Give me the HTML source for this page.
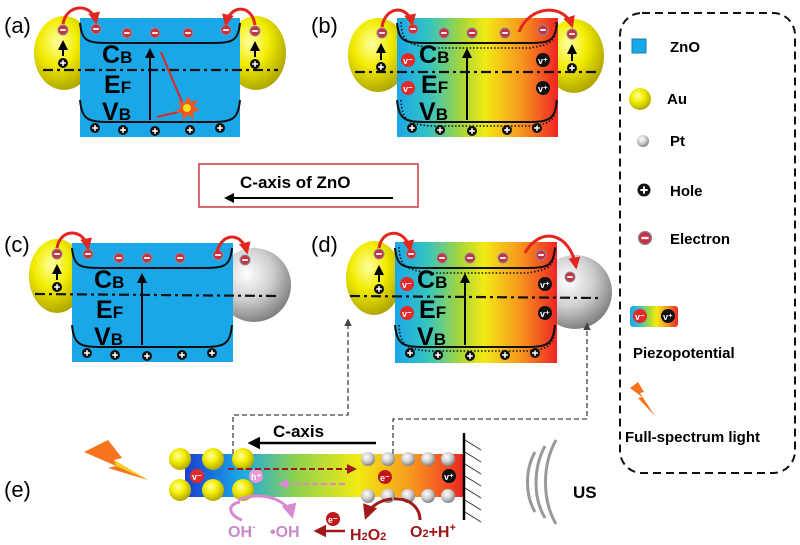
<!DOCTYPE html>
<html><head><meta charset="utf-8"><style>
html,body{margin:0;padding:0;background:#fff}
svg{display:block}
text{font-family:"Liberation Sans",Arial,sans-serif;font-weight:bold}
</style></head><body>
<svg width="800" height="545" viewBox="0 0 800 545" xmlns="http://www.w3.org/2000/svg">
<defs>
<linearGradient id="pz" x1="0" x2="1" y1="0" y2="0">
<stop offset="0" stop-color="#1aa7e8"/><stop offset="0.2" stop-color="#35c4c0"/><stop offset="0.4" stop-color="#a6d63a"/><stop offset="0.55" stop-color="#f2ea14"/><stop offset="0.78" stop-color="#f7931e"/><stop offset="1" stop-color="#ee2424"/></linearGradient>
<linearGradient id="rod" x1="0" x2="1" y1="0" y2="0">
<stop offset="0" stop-color="#1b3fd0"/><stop offset="0.2" stop-color="#1aa7e8"/><stop offset="0.4" stop-color="#8fd24c"/><stop offset="0.62" stop-color="#f2ea14"/><stop offset="0.82" stop-color="#f7931e"/><stop offset="1" stop-color="#ee2424"/></linearGradient>
<radialGradient id="au" cx="0.4" cy="0.35" r="0.7"><stop offset="0" stop-color="#ffffa0"/><stop offset="0.45" stop-color="#f2ec00"/><stop offset="1" stop-color="#a89f00"/></radialGradient>
<radialGradient id="pt" cx="0.4" cy="0.35" r="0.7"><stop offset="0" stop-color="#ffffff"/><stop offset="0.5" stop-color="#cfcfcf"/><stop offset="1" stop-color="#777"/></radialGradient>
<g id="el"><circle r="5" fill="#c8323e" stroke="#8a8aa0" stroke-width="1"/><rect x="-2.8" y="-0.9" width="5.6" height="1.8" fill="#fff"/></g>
<g id="ho"><circle r="5" fill="#111"/><rect x="-2.8" y="-0.8" width="5.6" height="1.6" fill="#fff"/><rect x="-0.8" y="-2.8" width="1.6" height="5.6" fill="#fff"/></g>
<marker id="ar" viewBox="0 0 10 10" refX="8" refY="5" markerWidth="5" markerHeight="5" orient="auto"><path d="M0,0L10,5L0,10z" fill="#000"/></marker>
<marker id="ra" viewBox="0 0 10 10" refX="8" refY="5" markerWidth="4" markerHeight="4" orient="auto"><path d="M0,0L10,5L0,10z" fill="#e3261f"/></marker>
<marker id="da" viewBox="0 0 10 10" refX="8" refY="5" markerWidth="5" markerHeight="5" orient="auto"><path d="M0,0L10,5L0,10z" fill="#a01818"/></marker>
<marker id="pa" viewBox="0 0 10 10" refX="8" refY="5" markerWidth="5" markerHeight="5" orient="auto"><path d="M0,0L10,5L0,10z" fill="#d88ad0"/></marker>
<marker id="ga" viewBox="0 0 10 10" refX="8" refY="5" markerWidth="6" markerHeight="6" orient="auto"><path d="M0,0L10,5L0,10z" fill="#444"/></marker>

<g id="inner">
<path d="M0,5 C2,24 8,25 30,25 L130,25 C152,25 158,24 160,5" fill="none" stroke="#111" stroke-width="2"/>
<path d="M0,82 C2,102 8,104 30,104 L130,104 C152,104 158,102 160,82" fill="none" stroke="#111" stroke-width="2"/>
<text x="22" y="45" font-size="25">C<tspan font-size="17">B</tspan></text>
<text x="24" y="75" font-size="25">E<tspan font-size="17">F</tspan></text>
<text x="22" y="102" font-size="25">V<tspan font-size="17">B</tspan></text>
<line x1="70" y1="102" x2="70" y2="32" stroke="#000" stroke-width="2" marker-end="url(#ar)"/>
<use href="#el" x="16" y="11"/><use href="#el" x="47" y="15"/><use href="#el" x="75" y="15"/><use href="#el" x="108" y="15"/><use href="#el" x="146" y="12"/>
<use href="#ho" x="15" y="110"/><use href="#ho" x="43" y="112"/><use href="#ho" x="75" y="113"/><use href="#ho" x="110" y="112"/><use href="#ho" x="140" y="110"/>
</g>
</defs>

<!-- (a) -->
<text x="4" y="33" font-size="22" style="font-weight:normal">(a)</text>
<ellipse cx="64" cy="53" rx="30" ry="37" fill="url(#au)"/>
<ellipse cx="256" cy="53" rx="30" ry="37" fill="url(#au)"/>
<rect x="80" y="18" width="160" height="119" fill="#1aa7e8"/>
<use href="#inner" x="80" y="18"/>
<line x1="43" y1="70" x2="278" y2="70" stroke="#111" stroke-width="2.2" stroke-dasharray="10,4,3,4"/>
<use href="#el" x="63" y="30"/><use href="#el" x="255" y="31"/>
<use href="#ho" x="63" y="63"/><use href="#ho" x="255" y="64"/>
<line x1="63" y1="56" x2="63" y2="42" stroke="#000" stroke-width="2" marker-end="url(#ar)"/>
<line x1="255" y1="57" x2="255" y2="43" stroke="#000" stroke-width="2" marker-end="url(#ar)"/>
<path d="M63,24 C66,4 92,2 96,22" fill="none" stroke="#e3261f" stroke-width="3" marker-end="url(#ra)"/>
<path d="M255,25 C252,4 230,4 226,24" fill="none" stroke="#e3261f" stroke-width="3" marker-end="url(#ra)"/>
<line x1="161" y1="52" x2="182" y2="102" stroke="#e3261f" stroke-width="2"/>
<line x1="157" y1="117" x2="178" y2="112" stroke="#e3261f" stroke-width="2"/>
<polygon points="188,96 191,102 198,100 194,106 200,110 193,112 194,119 188,115 183,120 182,113 176,112 181,107 178,101 185,103" fill="#f7541e"/>
<circle cx="187" cy="108" r="4" fill="#f6e020"/>

<!-- (b) -->
<text x="311" y="33" font-size="22" style="font-weight:normal">(b)</text>
<ellipse cx="378" cy="55" rx="30" ry="37" fill="url(#au)"/>
<ellipse cx="574" cy="56" rx="30" ry="37" fill="url(#au)"/>
<rect x="397" y="18" width="161" height="119" fill="url(#pz)"/>
<use href="#inner" x="397" y="18"/>
<path d="M401,22 C402,42 408,44 430,48 L530,48 C552,44 556,42 556,22" fill="none" stroke="#111" stroke-width="1.6" stroke-dasharray="1.5,2"/>
<path d="M401,100 C402,120 408,124 430,126 L530,126 C552,124 556,120 556,100" fill="none" stroke="#111" stroke-width="1.6" stroke-dasharray="1.5,2"/>
<line x1="355" y1="72" x2="598" y2="72" stroke="#111" stroke-width="2.2" stroke-dasharray="10,4,3,4"/>
<use href="#el" x="382" y="33"/><use href="#el" x="572" y="34"/>
<use href="#ho" x="381" y="67"/><use href="#ho" x="572" y="68"/>
<line x1="381" y1="60" x2="381" y2="45" stroke="#000" stroke-width="2" marker-end="url(#ar)"/>
<line x1="572" y1="61" x2="572" y2="46" stroke="#000" stroke-width="2" marker-end="url(#ar)"/>
<path d="M382,27 C385,6 408,4 412,24" fill="none" stroke="#e3261f" stroke-width="3" marker-end="url(#ra)"/>
<path d="M519,32 C530,4 565,4 572,26" fill="none" stroke="#e3261f" stroke-width="3" marker-end="url(#ra)"/>
<g font-size="9"><circle cx="408" cy="60" r="7" fill="#e32a2a"/><text x="403" y="64" fill="#fff">v⁻</text><circle cx="408" cy="88" r="7" fill="#e32a2a"/><text x="403" y="92" fill="#fff">v⁻</text>
<circle cx="543" cy="60" r="7" fill="#111"/><text x="538" y="64" fill="#fff">v⁺</text><circle cx="543" cy="88" r="7" fill="#111"/><text x="538" y="92" fill="#fff">v⁺</text></g>

<!-- center box -->
<rect x="199" y="164" width="219" height="43" fill="#fff" stroke="#d0383c" stroke-width="1.5"/>
<text x="240" y="188" font-size="17">C-axis of ZnO</text>
<line x1="393" y1="198" x2="226" y2="198" stroke="#000" stroke-width="2" marker-end="url(#ar)"/>

<!-- (c) -->
<text x="4" y="252" font-size="22" style="font-weight:normal">(c)</text>
<ellipse cx="57" cy="276" rx="28" ry="37" fill="url(#au)"/>
<circle cx="254" cy="285" r="37" fill="url(#pt)"/>
<rect x="72" y="243" width="161" height="119" fill="#1aa7e8"/>
<use href="#inner" x="72" y="243"/>
<line x1="35" y1="294" x2="277" y2="296" stroke="#111" stroke-width="2.2" stroke-dasharray="10,4,3,4"/>
<use href="#el" x="57" y="254"/><use href="#el" x="245" y="260"/>
<use href="#ho" x="57" y="287"/>
<line x1="57" y1="280" x2="57" y2="266" stroke="#000" stroke-width="2" marker-end="url(#ar)"/>
<path d="M57,248 C60,228 84,228 88,248" fill="none" stroke="#e3261f" stroke-width="3" marker-end="url(#ra)"/>
<path d="M217,252 C222,232 242,232 247,252" fill="none" stroke="#e3261f" stroke-width="3" marker-end="url(#ra)"/>

<!-- (d) -->
<text x="311" y="252" font-size="22" style="font-weight:normal">(d)</text>
<ellipse cx="374" cy="278" rx="28" ry="37" fill="url(#au)"/>
<circle cx="575" cy="292" r="37" fill="url(#pt)"/>
<rect x="395" y="242" width="162" height="121" fill="url(#pz)"/>
<use href="#inner" x="395" y="243"/>
<path d="M399,247 C400,267 406,269 428,273 L528,273 C550,269 554,267 555,247" fill="none" stroke="#111" stroke-width="1.6" stroke-dasharray="1.5,2"/>
<path d="M399,325 C400,345 406,349 428,351 L528,351 C550,349 554,345 555,325" fill="none" stroke="#111" stroke-width="1.6" stroke-dasharray="1.5,2"/>
<line x1="350" y1="296" x2="598" y2="298" stroke="#111" stroke-width="2.2" stroke-dasharray="10,4,3,4"/>
<use href="#el" x="379" y="254"/><use href="#el" x="570" y="277"/>
<use href="#ho" x="379" y="289"/>
<line x1="379" y1="282" x2="379" y2="267" stroke="#000" stroke-width="2" marker-end="url(#ar)"/>
<path d="M379,248 C382,228 406,228 410,250" fill="none" stroke="#e3261f" stroke-width="3" marker-end="url(#ra)"/>
<path d="M525,253 C540,226 570,232 576,267" fill="none" stroke="#e3261f" stroke-width="3" marker-end="url(#ra)"/>
<g font-size="9"><circle cx="407" cy="284" r="7" fill="#e32a2a"/><text x="402" y="288" fill="#fff">v⁻</text><circle cx="407" cy="313" r="7" fill="#e32a2a"/><text x="402" y="317" fill="#fff">v⁻</text>
<circle cx="545" cy="284" r="7" fill="#111"/><text x="540" y="288" fill="#fff">v⁺</text><circle cx="545" cy="313" r="7" fill="#111"/><text x="540" y="317" fill="#fff">v⁺</text></g>

<!-- connectors -->
<polyline points="233,454 233,415 348,415 348,320" fill="none" stroke="#444" stroke-width="1.3" stroke-dasharray="5,3" marker-end="url(#ga)"/>
<polyline points="393,454 393,419 587,419 587,324" fill="none" stroke="#444" stroke-width="1.3" stroke-dasharray="5,3" marker-end="url(#ga)"/>

<!-- (e) -->
<text x="4" y="497" font-size="22" style="font-weight:normal">(e)</text>
<polygon points="84,452 108,440 122,458 114,460 148,480 108,468 116,466" fill="#f7731e"/>
<polygon points="114,460 148,480 116,466" fill="#f6d020"/>
<rect x="185" y="454" width="279" height="43" fill="url(#rod)"/>
<text x="273" y="437" font-size="17">C-axis</text>
<line x1="376" y1="443" x2="250" y2="443" stroke="#000" stroke-width="2.5" marker-end="url(#ar)"/>
<g fill="url(#au)"><circle cx="180" cy="459" r="11"/><circle cx="213" cy="459" r="11"/><circle cx="243" cy="459" r="11"/><circle cx="180" cy="490" r="11"/><circle cx="213" cy="490" r="11"/><circle cx="243" cy="490" r="11"/></g>
<g fill="url(#pt)"><circle cx="368" cy="459" r="7"/><circle cx="388" cy="459" r="7"/><circle cx="408" cy="459" r="7"/><circle cx="428" cy="459" r="7"/><circle cx="448" cy="459" r="7"/><circle cx="368" cy="496" r="7"/><circle cx="388" cy="496" r="7"/><circle cx="408" cy="496" r="7"/><circle cx="428" cy="496" r="7"/><circle cx="448" cy="496" r="7"/></g>
<g font-size="9"><circle cx="197" cy="476" r="7" fill="#e32a2a"/><text x="192" y="480" fill="#fff">v⁻</text>
<circle cx="256" cy="476" r="7" fill="#e89ad8"/><text x="251" y="480" fill="#fff">h⁺</text>
<circle cx="385" cy="477" r="7" fill="#c01818"/><text x="380" y="481" fill="#fff">e⁻</text>
<circle cx="449" cy="476" r="7" fill="#111"/><text x="444" y="480" fill="#fff">v⁺</text></g>
<line x1="228" y1="469" x2="355" y2="469" stroke="#a01818" stroke-width="2" stroke-dasharray="6,3" marker-end="url(#da)"/>
<line x1="345" y1="484" x2="280" y2="484" stroke="#d88ad0" stroke-width="2" stroke-dasharray="6,3" marker-end="url(#pa)"/>
<line x1="464" y1="433" x2="464" y2="520" stroke="#000" stroke-width="2.5"/>
<g stroke="#333" stroke-width="1"><line x1="465" y1="440" x2="481" y2="450"/><line x1="465" y1="452" x2="481" y2="462"/><line x1="465" y1="464" x2="481" y2="474"/><line x1="465" y1="476" x2="481" y2="486"/><line x1="465" y1="488" x2="481" y2="498"/><line x1="465" y1="500" x2="481" y2="510"/><line x1="465" y1="512" x2="481" y2="522"/></g>
<path d="M240,502 C225,505 230,516 242,520" fill="none" stroke="#d88ad0" stroke-width="3"/>
<path d="M238,500 C262,490 288,500 292,516" fill="none" stroke="#d88ad0" stroke-width="3" marker-end="url(#pa)"/>
<path d="M392,499 C380,500 370,506 366,517" fill="none" stroke="#a01818" stroke-width="3" marker-end="url(#da)"/>
<path d="M394,499 C410,498 420,508 420,520" fill="none" stroke="#a01818" stroke-width="3"/>
<text x="228" y="537" font-size="16" fill="#c88ac8">OH<tspan font-size="10" dy="-7">-</tspan></text>
<text x="270" y="537" font-size="16" fill="#c88ac8">•OH</text>
<line x1="345" y1="531" x2="316" y2="531" stroke="#a01818" stroke-width="2.5" marker-end="url(#da)"/>
<circle cx="333" cy="519" r="7" fill="#c01818"/><text x="328" y="523" font-size="9" fill="#fff">e⁻</text>
<text x="350" y="540" font-size="16" fill="#a01818">H<tspan font-size="11">2</tspan>O<tspan font-size="11">2</tspan></text>
<text x="410" y="537" font-size="16" fill="#a01818">O<tspan font-size="11">2</tspan>+H<tspan font-size="11" dy="-6">+</tspan></text>
<g fill="none" stroke="#999" stroke-width="3"><path d="M535,452 C525,470 525,495 535,512"/><path d="M545,446 C533,468 533,498 545,518"/><path d="M556,440 C542,465 542,500 556,524"/></g>
<text x="573" y="498" font-size="17">US</text>

<!-- legend -->
<rect x="620" y="13" width="175" height="460" rx="22" fill="none" stroke="#111" stroke-width="2" stroke-dasharray="8,5"/>
<rect x="632" y="39" width="14" height="14" fill="#1aa7e8" stroke="#0d7fb5"/>
<text x="670" y="52" font-size="15">ZnO</text>
<circle cx="640" cy="99" r="11" fill="url(#au)"/>
<text x="667" y="104" font-size="15">Au</text>
<circle cx="643" cy="141" r="6" fill="url(#pt)"/>
<text x="670" y="146" font-size="15">Pt</text>
<use href="#ho" x="644" y="190" transform="translate(644,190) scale(1.3) translate(-644,-190)"/>
<text x="670" y="196" font-size="15">Hole</text>
<use href="#el" x="645" y="238" transform="translate(645,238) scale(1.3) translate(-645,-238)"/>
<text x="670" y="244" font-size="15">Electron</text>
<rect x="630" y="306" width="48" height="21" rx="3" fill="url(#pz)"/>
<g font-size="9"><circle cx="640" cy="316" r="7" fill="#e32a2a"/><text x="635" y="320" fill="#fff">v⁻</text><circle cx="668" cy="316" r="7" fill="#111"/><text x="663" y="320" fill="#fff">v⁺</text></g>
<text x="633" y="358" font-size="15">Piezopotential</text>
<polygon points="630,388 638,382 644,392 640,393 655,416 638,398 642,397" fill="#f7731e"/>
<text x="625" y="442" font-size="15">Full-spectrum light</text>
</svg>
</body></html>
